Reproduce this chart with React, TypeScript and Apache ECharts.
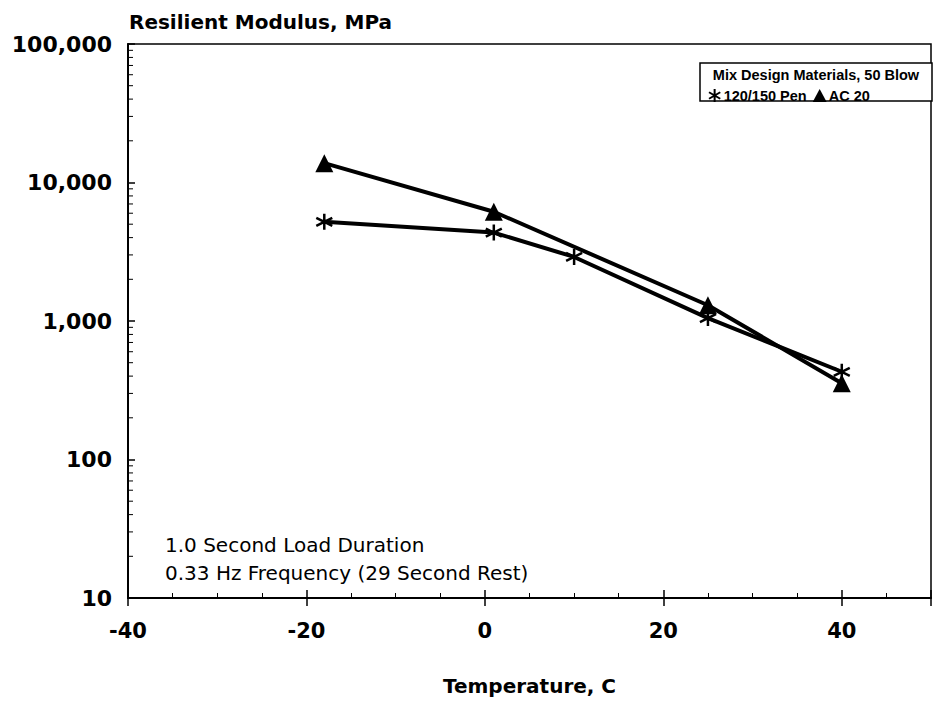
import React, { useEffect, useRef } from "react";
import * as echarts from "echarts";

const temps = [-18, 1, 10, 25, 40];
const penValues = [5200, 4350, 2900, 1050, 430];
const acTemps = [-18, 1, 25, 40];
const acValues = [13800, 6150, 1300, 355];
const xTicks = [-40, -20, 0, 20, 40];
const yTicks = [10, 100, 1000, 10000, 100000];
const decades = [10, 100, 1000, 10000];
const minorMultipliers = [2, 3, 4, 5, 6, 7, 8, 9];

const FONT = "'DejaVu Sans', 'Liberation Sans', Arial, sans-serif";
const LFONT = "'Liberation Sans', Arial, sans-serif";
const STAR = "path://M0,-6L0,6M-5.2,-3L5.2,3M-5.2,3L5.2,-3";

export default function App() {
  const ref = useRef<HTMLDivElement>(null);
  useEffect(() => {
    if (!ref.current) return;
    const chart = echarts.init(ref.current, null, { renderer: "svg" });
    const pen = temps.map((t, i) => [t, penValues[i]]);
    const ac = acTemps.map((t, i) => [t, acValues[i]]);
    const minorTicks: number[][] = [];
    decades.forEach((d) => minorMultipliers.forEach((m) => minorTicks.push([-40, d * m])));
    const xAxisCommon = {
      type: "value",
      min: -40,
      max: 50,
      interval: 20,
      position: "bottom",
    };
    chart.setOption({
      animation: false,
      backgroundColor: "#fff",
      title: {
        text: "Resilient Modulus, MPa",
        left: 124,
        top: 7,
        textStyle: { fontFamily: FONT, fontSize: 20, fontWeight: "bold", color: "#000" },
      },
      grid: {
        left: 128,
        top: 44,
        right: -4,
        bottom: 106,
        show: true,
        borderColor: "#000",
        borderWidth: 1.5,
        backgroundColor: "transparent",
      },
      legend: {
        left: 703,
        top: 83,
        z: 20,
        itemGap: 6,
        itemWidth: 14,
        itemHeight: 13,
        textStyle: { fontFamily: LFONT, fontSize: 14.5, fontWeight: "bold", color: "#000", padding: [0, 0, 0, -3] },
        data: [
          { name: "120/150 Pen", icon: STAR, itemStyle: { color: "#000", borderColor: "#000", borderWidth: 2 } },
          { name: "AC 20", icon: "triangle", itemStyle: { color: "#000" } },
        ],
      },
      xAxis: [
        {
          ...xAxisCommon,
          name: "Temperature, C",
          nameLocation: "middle",
          nameGap: 78,
          nameTextStyle: { fontFamily: FONT, fontSize: 20, fontWeight: "bold", color: "#000" },
          axisLine: { show: true, onZero: false, lineStyle: { color: "#000", width: 2 } },
          axisTick: { show: true, inside: true, length: 8, lineStyle: { color: "#000", width: 1.5 } },
          minorTick: { show: true, splitNumber: 4, length: 5, lineStyle: { color: "#000", width: 1 } },
          splitLine: { show: false },
          axisLabel: {
            show: true,
            margin: 22,
            fontFamily: FONT,
            fontSize: 21,
            fontWeight: "bold",
            color: "#000",
            formatter: (v: number) => (xTicks.includes(v) ? String(v) : ""),
          },
        },
        {
          ...xAxisCommon,
          axisLine: { show: false, onZero: false },
          axisTick: { show: true, inside: false, length: 8, lineStyle: { color: "#000", width: 1.5 } },
          axisLabel: { show: false },
          splitLine: { show: false },
        },
      ],
      yAxis: {
        type: "log",
        logBase: 10,
        min: 10,
        max: 100000,
        axisLine: { show: true, onZero: false, lineStyle: { color: "#000", width: 2 } },
        axisTick: { show: true, inside: true, length: 7, lineStyle: { color: "#000", width: 1.5 } },
        minorTick: { show: false },
        splitLine: { show: false },
        axisLabel: {
          margin: 16,
          fontFamily: FONT,
          fontSize: 22,
          fontWeight: "bold",
          color: "#000",
          formatter: (v: number) =>
            yTicks.includes(Math.round(v)) ? Math.round(v).toLocaleString("en-US") : "",
        },
      },
      graphic: [
        {
          type: "rect",
          shape: { x: 700, y: 63, width: 232, height: 38 },
          style: { fill: "#fff", stroke: "#000", lineWidth: 1.5 },
          z: 10,
        },
        {
          type: "text",
          x: 816,
          y: 75,
          z: 11,
          style: {
            text: "Mix Design Materials, 50 Blow",
            fontFamily: LFONT,
            fontSize: 14.5,
            fontWeight: "bold",
            fill: "#000",
            align: "center",
            verticalAlign: "middle",
          },
        },
        {
          type: "text",
          x: 165,
          y: 545,
          style: {
            text: "1.0 Second Load Duration",
            fontFamily: FONT,
            fontSize: 20,
            fill: "#000",
            verticalAlign: "middle",
          },
        },
        {
          type: "text",
          x: 165,
          y: 573,
          style: {
            text: "0.33 Hz Frequency (29 Second Rest)",
            fontFamily: FONT,
            fontSize: 20,
            fill: "#000",
            verticalAlign: "middle",
          },
        },
      ],
      series: [
        {
          name: "minor",
          type: "custom",
          data: minorTicks,
          silent: true,
          clip: false,
          renderItem: (params: any, api: any) => {
            const p = api.coord([api.value(0), api.value(1)]);
            return {
              type: "line",
              shape: { x1: p[0], y1: p[1], x2: p[0] + 5, y2: p[1] },
              style: { stroke: "#000", lineWidth: 1 },
            };
          },
          z: 1,
        },
        {
          name: "120/150 Pen",
          type: "line",
          data: pen,
          symbol: STAR,
          symbolSize: 16,
          itemStyle: { color: "#000", borderColor: "#000", borderWidth: 2.5 },
          lineStyle: { color: "#000", width: 4 },
          z: 3,
        },
        {
          name: "AC 20",
          type: "line",
          data: ac,
          symbol: "triangle",
          symbolSize: 18,
          itemStyle: { color: "#000" },
          lineStyle: { color: "#000", width: 4 },
          z: 4,
        },
      ],
    });
    return () => chart.dispose();
  }, []);
  return (
    <div
      ref={ref}
      style={{ position: "absolute", left: 0, top: 0, width: 934, height: 704 }}
    />
  );
}
